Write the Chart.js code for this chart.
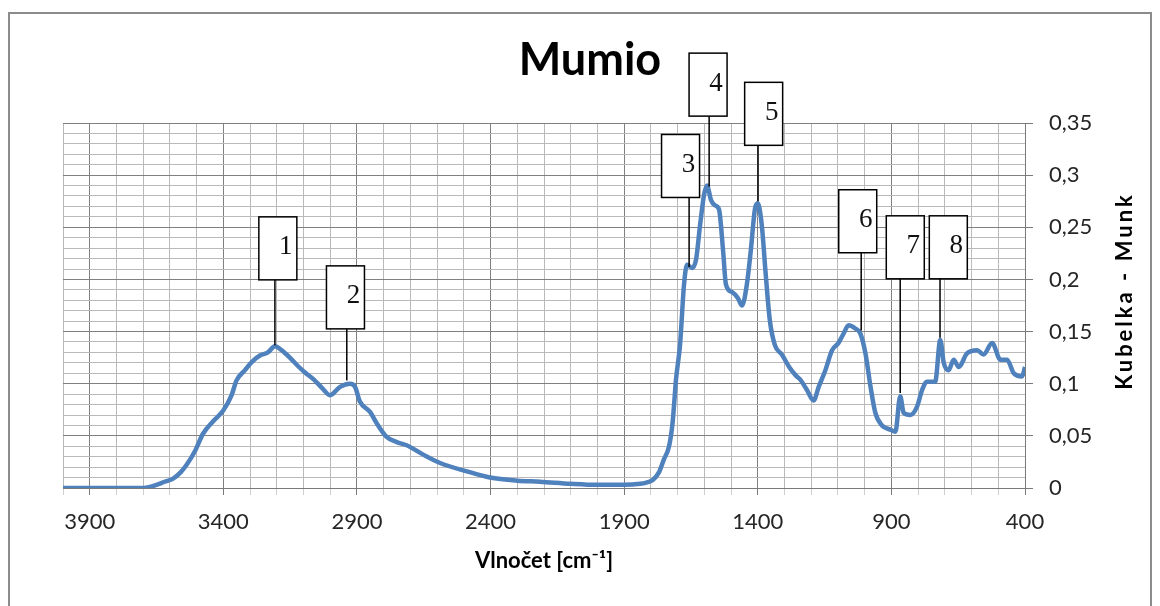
<!DOCTYPE html>
<html lang="cs">
<head>
<meta charset="utf-8">
<title>Mumio</title>
<script src="https://cdn.jsdelivr.net/npm/chart.js@4.4.1/dist/chart.umd.min.js"></script>
<style>
    html, body { margin: 0; padding: 0; background: #fff; }
    #wrap { width: 1160px; height: 606px; }
</style>
</head>
<body>
<div id="wrap"><canvas id="spektrumChart" width="1160" height="606"></canvas></div>
<script>
// Spectrum data (wavenumber in cm-1, Kubelka-Munk value)
const wavenumbers = [
    4000, 3800, 3700, 3675, 3650, 3620, 3588, 3560, 3538, 3507,
    3476, 3438, 3401, 3369, 3351, 3319, 3293, 3263, 3233, 3207,
    3181, 3151, 3121, 3091, 3061, 3031, 3001, 2963, 2926, 2907,
    2889, 2851, 2826, 2789, 2751, 2714, 2652, 2589, 2489, 2402,
    2300, 2215, 2100, 2000, 1900, 1840, 1820, 1792, 1770, 1752,
    1732, 1719, 1712, 1706, 1691, 1676, 1665, 1646, 1631, 1616,
    1601, 1590, 1575, 1560, 1545, 1530, 1519, 1497, 1474, 1459,
    1441, 1426, 1411, 1400, 1385, 1370, 1355, 1336, 1310, 1280,
    1258, 1241, 1216, 1191, 1172, 1147, 1122, 1098, 1079, 1060,
    1035, 1016, 997, 978, 960, 935, 904, 885, 867, 854,
    829, 804, 785, 767, 736, 717, 704, 686, 667, 648,
    617, 579, 555, 523, 492, 467, 442, 411, 400
];
const kmValues = [
    0, 0, 0, 0.001, 0.003, 0.006, 0.009, 0.015, 0.022, 0.035,
    0.052, 0.064, 0.074, 0.089, 0.103, 0.113, 0.121, 0.127, 0.130, 0.136,
    0.132, 0.125, 0.117, 0.110, 0.104, 0.096, 0.089, 0.097, 0.100, 0.097,
    0.083, 0.073, 0.062, 0.049, 0.044, 0.041, 0.032, 0.024, 0.016, 0.010,
    0.007, 0.006, 0.004, 0.003, 0.003, 0.004, 0.005, 0.008, 0.015, 0.027,
    0.040, 0.062, 0.084, 0.104, 0.137, 0.195, 0.214, 0.211, 0.219, 0.252,
    0.281, 0.290, 0.276, 0.271, 0.267, 0.228, 0.195, 0.188, 0.182, 0.175,
    0.195, 0.228, 0.267, 0.273, 0.252, 0.204, 0.161, 0.137, 0.128, 0.115,
    0.108, 0.104, 0.094, 0.084, 0.097, 0.113, 0.132, 0.139, 0.148, 0.156,
    0.153, 0.148, 0.129, 0.097, 0.072, 0.060, 0.056, 0.054, 0.088, 0.072,
    0.070, 0.078, 0.094, 0.102, 0.102, 0.142, 0.120, 0.113, 0.123, 0.116,
    0.129, 0.132, 0.128, 0.139, 0.123, 0.123, 0.110, 0.107, 0.116
];

// Axis tick labels
const xTickValues = [3900, 3400, 2900, 2400, 1900, 1400, 900, 400];
const yTickValues = [0, 0.05, 0.1, 0.15, 0.2, 0.25, 0.3, 0.35];
const yTickLabels = ['0', '0,05', '0,1', '0,15', '0,2', '0,25', '0,3', '0,35'];

// Numbered peak labels
const peakLabels = ['1', '2', '3', '4', '5', '6', '7', '8'];
const peakX = [3207, 2938, 1657, 1582, 1399, 1013, 867, 718];
const peakY = [0.137, 0.103, 0.212, 0.289, 0.275, 0.151, 0.091, 0.144];
const boxX = [3196, 2943, 1689, 1586, 1378, 1026, 848, 687];
const boxTop = [0.260, 0.213, 0.339, 0.417, 0.389, 0.286, 0.261, 0.261];

document.addEventListener('DOMContentLoaded', function() {
    Chart.defaults.font.family = 'Lato, "Open Sans", sans-serif';
    Chart.defaults.color = '#262626';
    drawSpectrum();
});

function isMajorX(value) {
    return xTickValues.indexOf(value) !== -1;
}

function yLabelIndex(value) {
    return yTickValues.findIndex(v => Math.abs(v - value) < 1e-6);
}

// Boxes, titles and frame drawn on top of the chart
const overlayPlugin = {
    id: 'overlay',
    afterDraw(chart) {
        const ctx = chart.ctx;
        const x = chart.scales.x;
        const y = chart.scales.y;
        ctx.save();

        // outer frame
        ctx.strokeStyle = '#8c8c8c';
        ctx.lineWidth = 2;
        ctx.beginPath();
        ctx.moveTo(9, 612);
        ctx.lineTo(9, 13);
        ctx.lineTo(1151, 13);
        ctx.lineTo(1151, 612);
        ctx.stroke();

        // chart title
        ctx.fillStyle = '#000';
        ctx.font = 'bold 45px Lato';
        ctx.textAlign = 'center';
        ctx.textBaseline = 'alphabetic';
        ctx.fillText('Mumio', 590, 75);

        // y axis title, reading bottom to top
        ctx.save();
        ctx.translate(1132, 291);
        ctx.rotate(-Math.PI / 2);
        ctx.font = 'bold 22px Lato';
        if ('letterSpacing' in ctx) ctx.letterSpacing = '3px';
        ctx.fillText('Kubelka - Munk', 0, 0);
        ctx.restore();

        // numbered boxes with leader lines
        const boxW = 38;
        const boxH = 63;
        peakLabels.forEach(function(label, i) {
            const lineX = x.getPixelForValue(peakX[i]);
            const endY = y.getPixelForValue(peakY[i]);
            const left = x.getPixelForValue(boxX[i]) - boxW / 2;
            const top = y.getPixelForValue(boxTop[i]);

            ctx.strokeStyle = '#000';
            ctx.lineWidth = 1.5;
            ctx.beginPath();
            ctx.moveTo(lineX, top + boxH);
            ctx.lineTo(lineX, endY);
            ctx.stroke();

            ctx.fillStyle = '#fff';
            ctx.fillRect(left, top, boxW, boxH);
            ctx.strokeRect(left, top, boxW, boxH);

            ctx.fillStyle = '#111';
            ctx.font = '27px "Liberation Serif", "Times New Roman", serif';
            ctx.textAlign = 'center';
            ctx.textBaseline = 'middle';
            ctx.fillText(label, left + boxW - 11, top + boxH / 2 - 1);
        });

        ctx.restore();
    }
};

function drawSpectrum() {
    const points = wavenumbers.map((w, i) => ({ x: w, y: kmValues[i] }));

    const ctx = document.getElementById('spektrumChart').getContext('2d');
    window.spektrumChart = new Chart(ctx, {
        type: 'line',
        data: {
            datasets: [{
                label: 'Mumio',
                data: points,
                borderColor: 'rgb(79, 129, 189)',
                borderWidth: 4.5,
                pointRadius: 0,
                fill: false,
                cubicInterpolationMode: 'monotone'
            }]
        },
        options: {
            responsive: false,
            animation: false,
            layout: {
                padding: { left: 63, top: 123, right: 0, bottom: 0 }
            },
            plugins: {
                legend: { display: false },
                tooltip: { enabled: false }
            },
            scales: {
                x: {
                    type: 'linear',
                    reverse: true,
                    min: 400,
                    max: 4000,
                    afterFit: function(scale) { scale.height = 118; },
                    border: { color: '#7a7a7a', width: 1 },
                    grid: {
                        color: ctx => isMajorX(ctx.tick.value) ? '#808080' : '#bababa',
                        tickColor: ctx => isMajorX(ctx.tick.value) ? '#7a7a7a' : '#d0d0d0',
                        tickLength: 7
                    },
                    ticks: {
                        stepSize: 100,
                        autoSkip: false,
                        maxRotation: 0,
                        padding: 14,
                        font: { size: 22 },
                        callback: value => isMajorX(value) ? String(value) : ''
                    },
                    title: {
                        display: true,
                        text: 'Vlnočet [cm⁻¹]',
                        font: { size: 22, weight: 'bold' },
                        color: '#000',
                        padding: { top: 32, bottom: 32 }
                    }
                },
                y: {
                    position: 'right',
                    min: 0,
                    max: 0.35,
                    afterFit: function(scale) { scale.width = 135; },
                    border: { color: '#7a7a7a', width: 1 },
                    grid: {
                        color: ctx => yLabelIndex(ctx.tick.value) !== -1 ? '#808080' : '#bababa',
                        tickColor: ctx => yLabelIndex(ctx.tick.value) !== -1 ? '#7a7a7a' : 'rgba(0,0,0,0)',
                        tickLength: 8
                    },
                    ticks: {
                        stepSize: 0.01,
                        autoSkip: false,
                        padding: 16,
                        font: { size: 22 },
                        callback: function(value) {
                            const idx = yLabelIndex(value);
                            return idx !== -1 ? yTickLabels[idx] : '';
                        }
                    }
                }
            }
        },
        plugins: [overlayPlugin]
    });
}
</script>
</body>
</html>
